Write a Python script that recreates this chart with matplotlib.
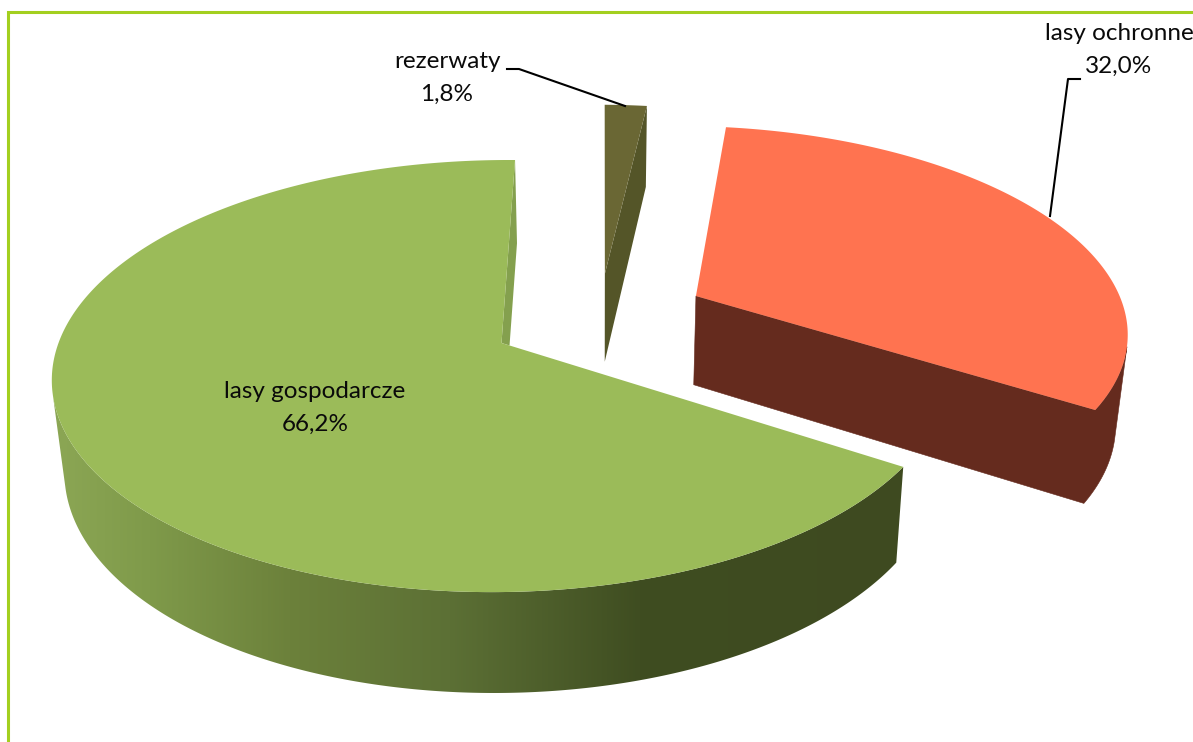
import numpy as np
import matplotlib
matplotlib.use("Agg")
import matplotlib.pyplot as plt
from matplotlib.patches import Polygon
from matplotlib.colors import to_rgb

categories = ["lasy ochronne", "lasy gospodarcze", "rezerwaty"]
shares = [32.0, 66.2, 1.8]
labels = ["32,0%", "66,2%", "1,8%"]
top_colors = ["#FF7350", "#9BBB59", "#6A6734"]
side_colors = ["#652B1E", "#84A04E", "#545528"]

# slice offsets on the pie plane (unit radius) and radius factors
explode = [(0.450, 0.2306), (0.0, 0.0), (0.239, 0.345)]
radius = [0.99, 1.0, 1.02]
boundary = 122.6  # clock angle where "gospodarcze" begins

# projection
X0, Y0, A, B, P, S = 501.5, 343.0, 443.0, 211.0, 0.153, 8.5


def project(u, v):
    w = 1 + P * v
    return X0 + (A * u + S * v) / w, Y0 - B * v / w


def lower(x, y):
    return 600 + (x - 600) * 0.977, y + 76.6 + 0.041 * y


def rim(a0, a1, off, r, n=160):
    t = np.radians(np.linspace(a0, a1, n))
    return project(off[0] + r * np.sin(t), off[1] + r * np.cos(t))


def silhouette(xs, ys):
    """Sign of rim tangent against the top-to-bottom offset, per rim segment."""
    bx_, by_ = lower(xs, ys)
    return np.sign(np.diff(xs) * (by_ - ys)[:-1] - np.diff(ys) * (bx_ - xs)[:-1])


deg = [s / sum(shares) * 360 for s in shares]
g0 = boundary
g1 = g0 + deg[1]
r1 = g0
r0 = r1 - deg[0]
z0 = g1 - 360
z1 = z0 + deg[2]
ranges = [(r0, r1), (g0, g1), (z0, z1)]

fig = plt.figure(figsize=(11.93, 7.42), dpi=100)
ax = fig.add_axes([0, 0, 1, 1])

# frame
frame = "#A3CF1F"
ax.plot([7.5, 7.5, 1193], [742, 11.5, 11.5], color=frame, lw=2.2, solid_joinstyle="miter", zorder=1)


def poly(xs, ys, color, z, lw=0.0):
    p = Polygon(np.column_stack([xs, ys]), closed=True, facecolor=color,
                edgecolor=color, lw=lw, zorder=z)
    ax.add_patch(p)
    return p


# ---- gospodarcze
off = explode[1]
ax_x, ax_y = project(*off)
gx, gy = rim(*ranges[1], off, radius[1], 800)
stops_x = [60, 150, 290, 450, 640, 905]
stops_c = np.array([to_rgb(c) for c in ["#8BA654", "#7F9A4A", "#6C813B", "#5C7035", "#3F4D21", "#3E4A20"]])
bx, by = lower(gx, gy)
sg = silhouette(gx, gy)
last = np.nonzero(sg != sg[0])[0][0] + 1
wall = Polygon(np.column_stack([np.r_[gx[:last], bx[:last][::-1]], np.r_[gy[:last], by[:last][::-1]]]),
               closed=True, facecolor="none", edgecolor="none", transform=ax.transData)
ax.add_patch(wall)
cols = np.arange(0, 1193) + 0.5
grad = np.stack([np.interp(cols, stops_x, stops_c[:, k]) for k in range(3)], axis=-1)[None, :, :]
im = ax.imshow(grad, extent=(0, 1193, 742, 0), aspect="auto", zorder=2, interpolation="bilinear")
im.set_clip_path(wall)
# cut wall at the end of the slice
e_x, e_y = gx[0] - ax_x, gy[0] - ax_y
poly([gx[-1], bx[-1], ax_x + 0.02 * e_x, ax_x], [gy[-1], by[-1], ax_y + 0.02 * e_y, ax_y], side_colors[1], 2)
poly(np.r_[ax_x, gx], np.r_[ax_y, gy], top_colors[1], 3)

# ---- ochronne
off = explode[0]
ax_x, ax_y = project(*off)
rx, ry = rim(*ranges[0], off, radius[0], 600)
bx, by = lower(rx, ry)
sg = silhouette(rx, ry)
first = np.nonzero(sg != sg[-1])[0][-1] + 1
lx, ly = lower(ax_x, ax_y)
poly(np.r_[ax_x, lx, bx[first:][::-1], rx[first:]], np.r_[ax_y, ly, by[first:][::-1], ry[first:]],
     side_colors[0], 4, lw=0.4)
poly(np.r_[ax_x, rx], np.r_[ax_y, ry], top_colors[0], 5)

# ---- rezerwaty
off = explode[2]
ax_x, ax_y = project(*off)
zx, zy = rim(*ranges[2], off, radius[2], 30)
lx, ly = lower(ax_x, ax_y)
bx, by = lower(zx[-1], zy[-1])
poly([ax_x, zx[-1], bx, lx], [ax_y, zy[-1], by, ly], side_colors[2], 4)
poly(np.r_[ax_x, zx], np.r_[ax_y, zy], top_colors[2], 5)

# ---- labels and leaders
font = dict(family="Lato", fontsize=17.5, color="#0A0A0A", ha="center", va="center", zorder=8)
ax.text(315, 391, categories[1], **font)
ax.text(315, 424, labels[1], **font)
ax.text(447, 61, categories[2], **font)
ax.text(447, 94, labels[2], **font)
ax.text(1119, 34, categories[0], clip_on=True, **font)
ax.text(1119, 66, labels[0], **font)
ax.plot([507, 519, 625], [69, 69, 106], color="black", lw=1.5, zorder=7)
ax.plot([1080, 1068, 1050], [79, 79, 216], color="black", lw=1.5, zorder=7)

ax.set_xlim(0, 1193)
ax.set_ylim(742, 0)
ax.axis("off")
fig.savefig("out.png", dpi=100)
